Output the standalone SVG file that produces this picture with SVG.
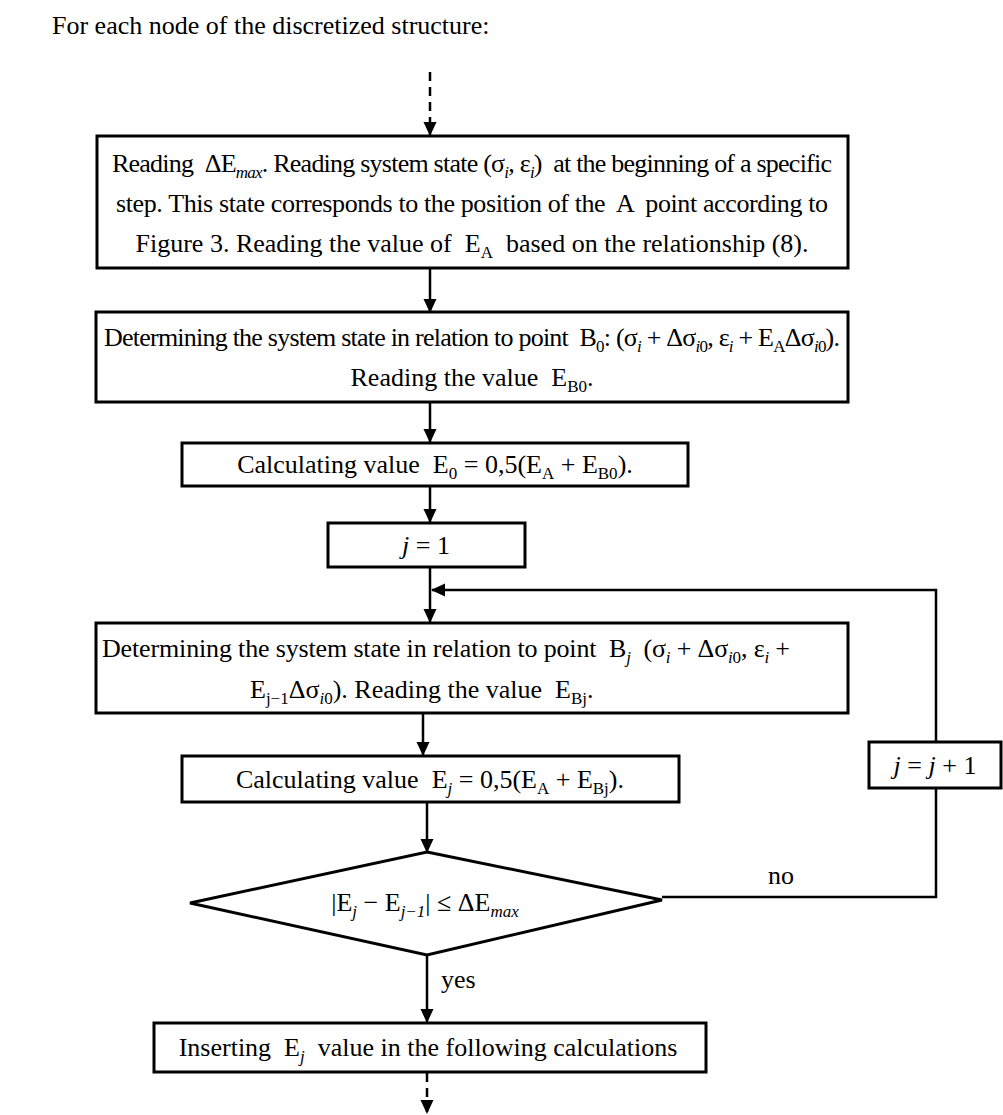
<svg xmlns="http://www.w3.org/2000/svg" width="1003" height="1115" viewBox="0 0 1003 1115">
<style>
text{font-family:"Liberation Serif","Times New Roman",serif;font-size:26px;fill:#000;white-space:pre}
.c{text-anchor:middle}
.it{font-style:italic}
.sub{font-size:17px}
.box{fill:#fff;stroke:#000;stroke-width:3}
.ln{fill:none;stroke:#000;stroke-width:2.5}
.dash{stroke-dasharray:9 6}
</style>
<defs>
<marker id="ah" markerWidth="14" markerHeight="14" refX="13" refY="7" orient="auto" markerUnits="userSpaceOnUse"><path d="M0,0.5 L14,7 L0,13.5 z" fill="#000"/></marker>
</defs>
<text x="52" y="34">For each node of the discretized structure:</text>
<g id="connectors">
<path class="ln dash" d="M430,72 V135" marker-end="url(#ah)"/>
<path class="ln" d="M430,268 V312" marker-end="url(#ah)"/>
<path class="ln" d="M430,402 V442" marker-end="url(#ah)"/>
<path class="ln" d="M430,486 V522" marker-end="url(#ah)"/>
<path class="ln" d="M430,567 V622" marker-end="url(#ah)"/>
<path class="ln" d="M936,742 V590 H432" marker-end="url(#ah)"/>
<path class="ln" d="M936,788 V897 H662"/>
<path class="ln" d="M423,713 V755" marker-end="url(#ah)"/>
<path class="ln" d="M427,802 V852" marker-end="url(#ah)"/>
<path class="ln" d="M427,955 V1022" marker-end="url(#ah)"/>
<path class="ln dash" d="M427,1073 V1113" marker-end="url(#ah)"/>
</g>
<g id="n1">
<rect class="box" x="97" y="136" width="751" height="132"/>
<text class="c" x="472" y="172" textLength="720">Reading  ΔE<tspan class="sub it" dy="6">max</tspan><tspan dy="-6">. Reading system state (σ</tspan><tspan class="sub it" dy="6">i</tspan><tspan dy="-6">, ε</tspan><tspan class="sub it" dy="6">i</tspan><tspan dy="-6">)  at the beginning of a specific</tspan></text>
<text class="c" x="472" y="212" textLength="712">step. This state corresponds to the position of the  A  point according to</text>
<text class="c" x="472" y="252">Figure 3. Reading the value of  E<tspan class="sub" dy="6">A</tspan><tspan dy="-6">  based on the relationship (8).</tspan></text>
</g>
<g id="n2">
<rect class="box" x="96" y="312" width="752" height="90"/>
<text class="c" x="472" y="346" textLength="736">Determining the system state in relation to point  B<tspan class="sub" dy="6">0</tspan><tspan dy="-6">: (σ</tspan><tspan class="sub it" dy="6">i</tspan><tspan dy="-6"> + Δσ</tspan><tspan class="sub" dy="6"><tspan class="it">i</tspan>0</tspan><tspan dy="-6">, ε</tspan><tspan class="sub it" dy="6">i</tspan><tspan dy="-6"> + E</tspan><tspan class="sub" dy="6">A</tspan><tspan dy="-6">Δσ</tspan><tspan class="sub" dy="6"><tspan class="it">i</tspan>0</tspan><tspan dy="-6">).</tspan></text>
<text class="c" x="472" y="386">Reading the value  E<tspan class="sub" dy="6">B0</tspan><tspan dy="-6">.</tspan></text>
</g>
<g id="n3">
<rect class="box" x="182" y="443" width="506" height="43"/>
<text class="c" x="435" y="473">Calculating value  E<tspan class="sub" dy="6">0</tspan><tspan dy="-6"> = 0,5(E</tspan><tspan class="sub" dy="6">A</tspan><tspan dy="-6"> + E</tspan><tspan class="sub" dy="6">B0</tspan><tspan dy="-6">).</tspan></text>
</g>
<g id="n4">
<rect class="box" x="328" y="523" width="197" height="44"/>
<text class="c" x="426" y="554"><tspan class="it">j</tspan> = 1</text>
</g>
<g id="n5">
<rect class="box" x="96" y="623" width="752" height="90"/>
<text x="102" y="657" textLength="688">Determining the system state in relation to point  B<tspan class="sub it" dy="6">j</tspan><tspan dy="-6">  (σ</tspan><tspan class="sub it" dy="6">i</tspan><tspan dy="-6"> + Δσ</tspan><tspan class="sub" dy="6"><tspan class="it">i</tspan>0</tspan><tspan dy="-6">, ε</tspan><tspan class="sub it" dy="6">i</tspan><tspan dy="-6"> +</tspan></text>
<text x="250" y="698">E<tspan class="sub" dy="6">j−1</tspan><tspan dy="-6">Δσ</tspan><tspan class="sub" dy="6"><tspan class="it">i</tspan>0</tspan><tspan dy="-6">). Reading the value  E</tspan><tspan class="sub" dy="6">Bj</tspan><tspan dy="-6">.</tspan></text>
</g>
<g id="n6">
<rect class="box" x="182" y="756" width="497" height="46"/>
<text class="c" x="430" y="788">Calculating value  E<tspan class="sub it" dy="6">j</tspan><tspan dy="-6"> = 0,5(E</tspan><tspan class="sub" dy="6">A</tspan><tspan dy="-6"> + E</tspan><tspan class="sub" dy="6">Bj</tspan><tspan dy="-6">).</tspan></text>
</g>
<g id="n7">
<path class="box" d="M427,852 L662,900 L427,955 L190,903 Z"/>
<text class="c" x="425" y="911">|E<tspan class="sub it" dy="6">j</tspan><tspan dy="-6"> − E</tspan><tspan class="sub it" dy="6">j−1</tspan><tspan dy="-6">| ≤ ΔE</tspan><tspan class="sub it" dy="6">max</tspan></text>
</g>
<g id="n8">
<rect class="box" x="869" y="742" width="132" height="46"/>
<text class="c" x="935" y="774"><tspan class="it">j</tspan> = <tspan class="it">j</tspan> + 1</text>
</g>
<g id="n9">
<rect class="box" x="154" y="1023" width="552" height="49"/>
<text class="c" x="428" y="1056">Inserting  E<tspan class="sub it" dy="6">j</tspan><tspan dy="-6">  value in the following calculations</tspan></text>
</g>
<text x="768" y="884">no</text>
<text x="441" y="988">yes</text>
</svg>
